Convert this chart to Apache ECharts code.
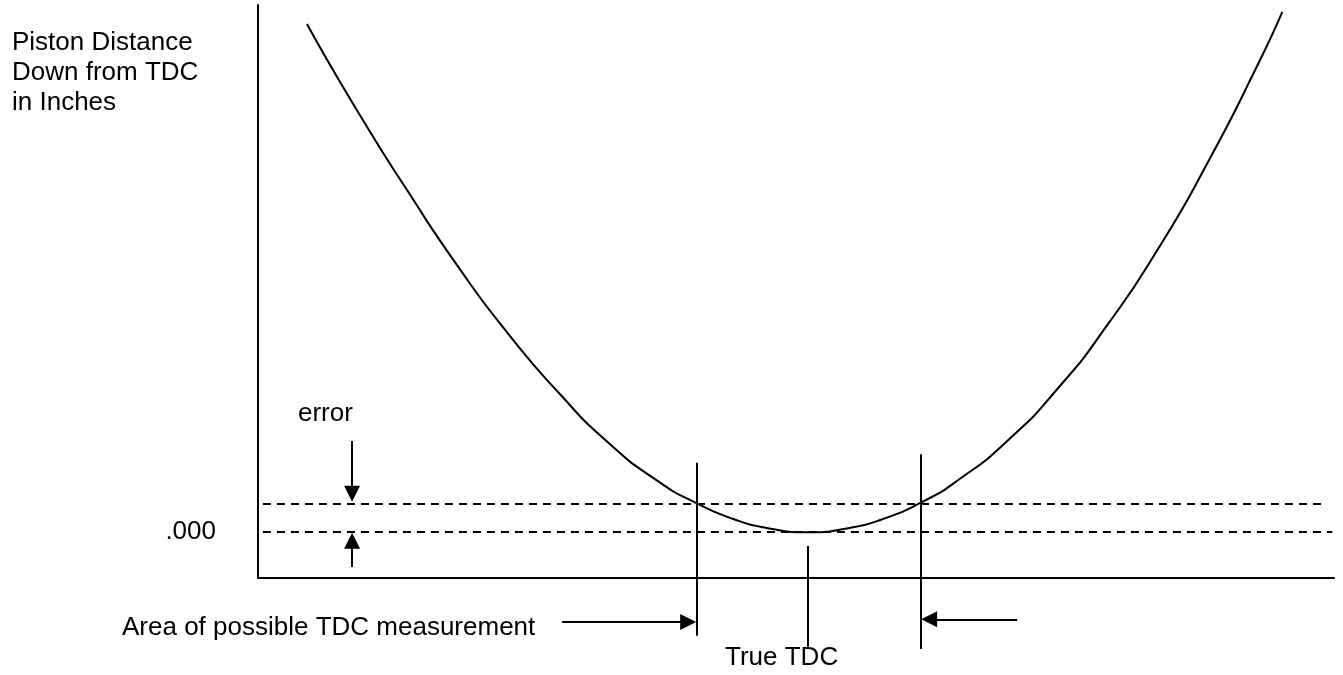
<!DOCTYPE html>
<html>
<head>
<meta charset="utf-8">
<title>Piston TDC</title>
<script src="https://cdn.jsdelivr.net/npm/echarts@6/dist/echarts.min.js"></script>
<style>
  html, body { margin: 0; padding: 0; background: #ffffff; }
  #chart { width: 1343px; height: 675px; }
</style>
</head>
<body>
<div id="chart"></div>
<script>
// crank position (0 = true TDC) vs piston distance down (0 = .000)
var curveX = [-91.1, -81.8, -72.7, -63.6, -54.5, -45.5, -36.4, -27.3, -20.4, -13.6, -7.3, 0,
              7.3, 13.6, 20.4, 27.3, 36.4, 45.5, 54.5, 63.6, 72.7, 81.8, 86.2];
var curveY = [88.7, 73.3, 59.4, 46.3, 34.6, 24.5, 15.7, 8.9, 5.1, 2.3, 0.7, 0,
              0.7, 2.3, 5.1, 9.1, 16.1, 25.2, 36.3, 49.4, 64.6, 81.7, 90.8];

// dashed levels: .000 and .000 + error
var levelY = [0, 5];
var levelStart = [-99.1, -99.1];
var levelEnd = [95.3, 93.5];

// vertical guides: left / right of measurement area, true TDC
var guideX = [-20.2, 20.4, 0];
var guideTop = [12.1, 13.6, -2.4];
var guideBottom = [-18.1, -20.4, -20.0];

// arrows [fromX, fromY, toX, toY]
var arrows = [
  [-44.7, -15.7, -21.8, -15.7],   // area arrow from left
  [38.0, -15.2, 22.0, -15.2],     // area arrow from right
  [-82.9, 15.9, -82.9, 6.7],      // error arrow down
  [-82.9, -6.1, -82.9, -1.5]      // error arrow up
];

var chart = echarts.init(document.getElementById('chart'));
var font = '"Liberation Sans", Arial, sans-serif';

var curve = curveX.map(function (x, i) { return [x, curveY[i]]; });

var levelLines = levelY.map(function (y, i) {
  return { coords: [[levelStart[i], y], [levelEnd[i], y]] };
});
var guideLines = guideX.map(function (x, i) {
  return { coords: [[x, guideTop[i]], [x, guideBottom[i]]] };
});
var arrowLines = arrows.map(function (a) {
  return { coords: [[a[0], a[1]], [a[2], a[3]]] };
});

chart.setOption({
  backgroundColor: '#ffffff',
  animation: false,
  grid: {
    left: 258,
    right: 9,
    top: 5,
    bottom: 97
  },
  xAxis: {
    type: 'value',
    min: -100,
    max: 95.6,
    axisLine: { onZero: false, lineStyle: { color: '#000', width: 2 } },
    axisTick: { show: false },
    axisLabel: { show: false },
    splitLine: { show: false }
  },
  yAxis: {
    type: 'value',
    min: -8,
    max: 92,
    interval: 8,
    axisLine: { show: true, onZero: false, lineStyle: { color: '#000', width: 2 } },
    axisTick: { show: false },
    splitLine: { show: false },
    axisLabel: {
      margin: 42,
      color: '#000',
      fontSize: 26,
      fontFamily: font,
      showMaxLabel: false,
      formatter: function (v) { return v === 0 ? '.000' : ''; }
    }
  },
  graphic: [
    { type: 'text', x: 12, y: 28,
      style: { text: 'Piston Distance\nDown from TDC\nin Inches', font: '26px ' + font,
               fill: '#000', lineHeight: 30, verticalAlign: 'top' } },
    { type: 'text', x: 298, y: 414,
      style: { text: 'error', font: '26px ' + font, fill: '#000', verticalAlign: 'middle' } },
    { type: 'text', x: 122, y: 628,
      style: { text: 'Area of possible TDC measurement', font: '26px ' + font, fill: '#000', verticalAlign: 'middle' } },
    { type: 'text', x: 725, y: 658,
      style: { text: 'True TDC', font: '26px ' + font, fill: '#000', verticalAlign: 'middle' } }
  ],
  series: [
    {
      name: 'curve',
      type: 'line',
      data: curve,
      smooth: 0.6,
      clip: false,
      symbol: 'none',
      silent: true,
      lineStyle: { color: '#000', width: 2 }
    },
    {
      name: 'levels',
      type: 'lines',
      coordinateSystem: 'cartesian2d',
      clip: false,
      silent: true,
      symbol: 'none',
      lineStyle: { color: '#000', width: 2, type: [8, 6], opacity: 1 },
      data: levelLines
    },
    {
      name: 'guides',
      type: 'lines',
      coordinateSystem: 'cartesian2d',
      clip: false,
      silent: true,
      symbol: 'none',
      lineStyle: { color: '#000', width: 2, type: 'solid', opacity: 1 },
      data: guideLines
    },
    {
      name: 'arrows',
      type: 'lines',
      coordinateSystem: 'cartesian2d',
      clip: false,
      silent: true,
      symbol: ['none', 'triangle'],
      symbolSize: [15, 16],
      itemStyle: { color: '#000' },
      lineStyle: { color: '#000', width: 2, type: 'solid', opacity: 1 },
      data: arrowLines
    }
  ]
});
</script>
</body>
</html>
